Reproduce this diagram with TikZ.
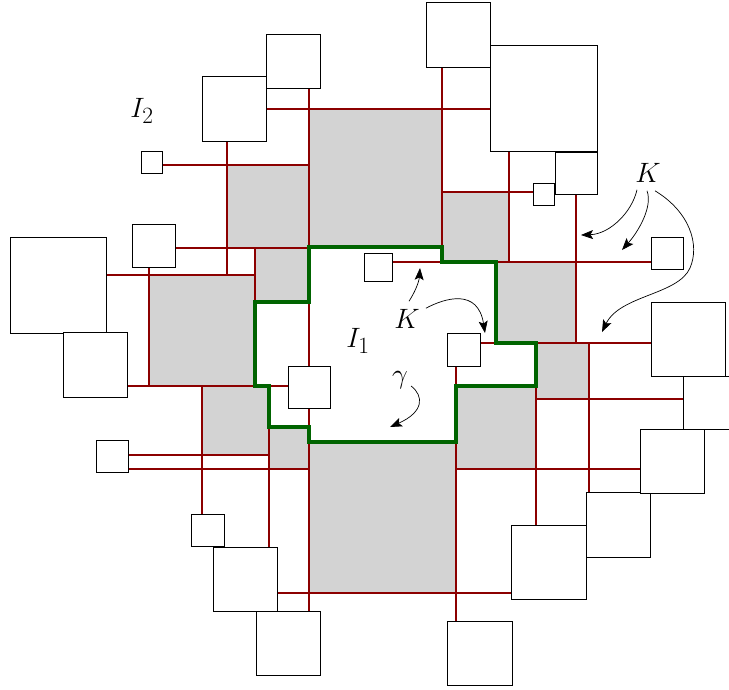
\documentclass[tikz,border=0pt]{standalone}
\usetikzlibrary{arrows.meta}
\definecolor{wirered}{RGB}{140,0,0}
\definecolor{pathgreen}{RGB}{0,100,0}
\definecolor{cellgray}{RGB}{211,211,211}
\begin{document}
\begin{tikzpicture}[
  x=1pt, y=-1pt,
  box/.style={draw, fill=white, line width=0.9pt, inner sep=0pt, outer sep=0pt, minimum size=#1},
  cell/.style={fill=cellgray},
  wire/.style={draw=wirered, line width=2.6pt},
  gam/.style={draw=pathgreen, line width=4.6pt},
  lbl/.style={inner sep=0pt, font=\Huge, scale=1.125},
  arr/.style={-{Stealth[length=12pt,width=9pt,inset=2.5pt]}, line width=0.7pt}
]
\useasboundingbox (0,0) rectangle (729,689);
\clip (0,0) rectangle (729,689);

% grey cells
\foreach \xa/\ya/\xb/\yb in {309/109/442/247, 227/165/309/248, 255/248/309/302,
  149/275/255/386, 202/386/269/455, 269/427/309/469, 309/442/456/593,
  456/386/536/469, 536/343/589/399, 496/262/576/343, 442/192/509/262}
  \fill[cell] (\xa,\ya) rectangle (\xb,\yb);

% red grid
\foreach \xa/\ya/\xb/\yb in {267/109/490/109, 163/165/309/165, 175/248/309/248,
  106/275/255/275, 128/386/288/386, 128/455/269/455, 128/469/309/469,
  277/593/512/593, 456/469/640/469, 536/399/683/399, 480/343/651/343,
  392/262/651/262, 442/192/533/192,
  309/88/309/611, 227/141/227/275, 149/267/149/386, 255/248/255/386,
  202/386/202/514, 269/386/269/547, 442/67/442/262, 509/152/509/262,
  576/194/576/343, 589/343/589/493, 536/343/536/525, 456/366/456/621}
  \draw[wire] (\xa,\ya) -- (\xb,\yb);

% the curve gamma
\draw[gam] (309,247) -- (442,247) -- (442,262) -- (496,262) -- (496,343)
  -- (536,343) -- (536,386) -- (456,386) -- (456,442) -- (309,442)
  -- (309,427) -- (269,427) -- (269,386) -- (255,386) -- (255,302)
  -- (309,302) -- cycle;

% squares
\foreach \n/\x/\y/\s in {q1/293/61/54, q2/234.5/109/64.5, q3/152/162.5/21.5,
  q4/153.5/245.5/43, q5/58/285/96, q6/95.5/365/64.5, q7/208/530.5/32.5,
  q8/112/456/32, q9/245/579/64, q10/288/643/64, q11/309/387/42,
  q12/378/267/28, q13/463.5/349.5/33, q14/480/653.5/64.5, q15/549/562.5/74.5,
  q16/618.5/525/64.5, q17/709.5/402.5/53, q18/672/461/64, q19/688/339/74,
  q20/667/253/32, q21/576/173/42, q22/544/194.5/21.5, q23/544/98.5/106.5,
  q24/458.5/35/64.5}
  \node[box=\s pt] (\n) at (\x,\y) {};

% labels
\node[lbl] (i2) at (142,111) {$I_2$};
\node[lbl] (i1) at (358,341) {$I_1$};
\node[lbl] (k1) at (648,173) {$K$};
\node[lbl] (k2) at (407,319) {$K$};
\node[lbl] (gm) at (400,380) {$\gamma$};

\coordinate (t1) at (581,235);
\coordinate (t2) at (622,250);
\coordinate (t3) at (602,332);
\coordinate (t4) at (420,268);
\coordinate (t5) at (485,333);
\coordinate (t6) at (390,427);

\draw[arr] ([shift={(-11,7)}]k1.south) .. controls (632,212) and (610,234) .. (t1);
\draw[arr] ([shift={(-1,8)}]k1.south) .. controls (653,207) and (638,232) .. (t2);
\draw[arr] ([shift={(7,8)}]k1.south) .. controls (690,212) and (700,245) .. (690,268)
  .. controls (678,295) and (620,295) .. (t3);
\draw[arr] ([shift={(2,-8)}]k2.north) .. controls (415,292) and (419,282) .. (t4);
\draw[arr] ([shift={(6,-1)}]k2.north east) .. controls (445,298) and (478,288) .. (t5);
\draw[arr] ([shift={(3,6)}]gm.east) .. controls (424,396) and (424,412) .. (t6);
\end{tikzpicture}
\end{document}
